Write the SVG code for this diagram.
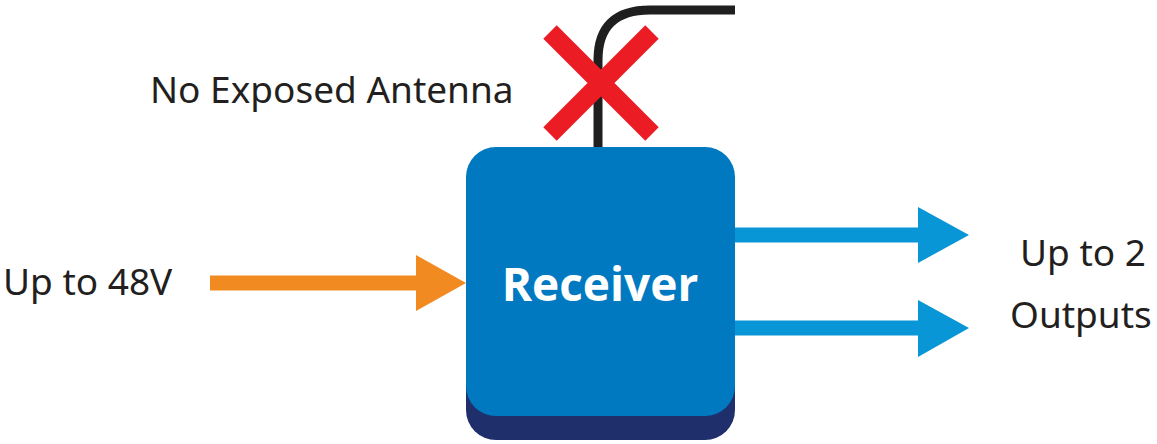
<svg xmlns="http://www.w3.org/2000/svg" width="1157" height="444" viewBox="0 0 1157 444">
<style>
.t{font-family:"Noto Sans","Open Sans",sans-serif;font-size:37px;fill:#231f20}
.b{font-family:"Open Sans","Noto Sans",sans-serif;font-size:46px;font-weight:bold;fill:#fff}
</style>
<rect width="1157" height="444" fill="#fff"/>
<g id="connectors">
<path d="M598 150 V60 Q598 10 650 10 H735" fill="none" stroke="#1f1f1f" stroke-width="9"/>
<path d="M735 235 H922 M735 328 H922" stroke="#0996d6" stroke-width="15"/>
<path d="M918 207 L969 235 L918 263Z M918 300 L969 328 L918 357Z" fill="#0996d6"/>
<path d="M210 283 H420" stroke="#f18a21" stroke-width="15"/>
<path d="M416 255 L466 283 L416 311Z" fill="#f18a21"/>
</g>
<g id="no-antenna">
<path d="M550 32 L652 134 M652 32 L550 134" stroke="#ec1c24" stroke-width="19"/>
<text class="t" x="150" y="103">No Exposed Antenna</text>
</g>
<g id="receiver">
<rect x="466" y="170" width="269" height="270" rx="30" fill="#1f2f6b"/>
<rect x="466" y="147" width="269" height="269" rx="30" fill="#0079c1"/>
<text class="b" x="600" y="301" text-anchor="middle">Receiver</text>
</g>
<g id="input"><text class="t" x="3" y="295">Up to 48V</text></g>
<g id="outputs">
<text class="t" x="1020" y="266">Up to 2</text>
<text class="t" x="1010" y="328">Outputs</text>
</g>
</svg>
